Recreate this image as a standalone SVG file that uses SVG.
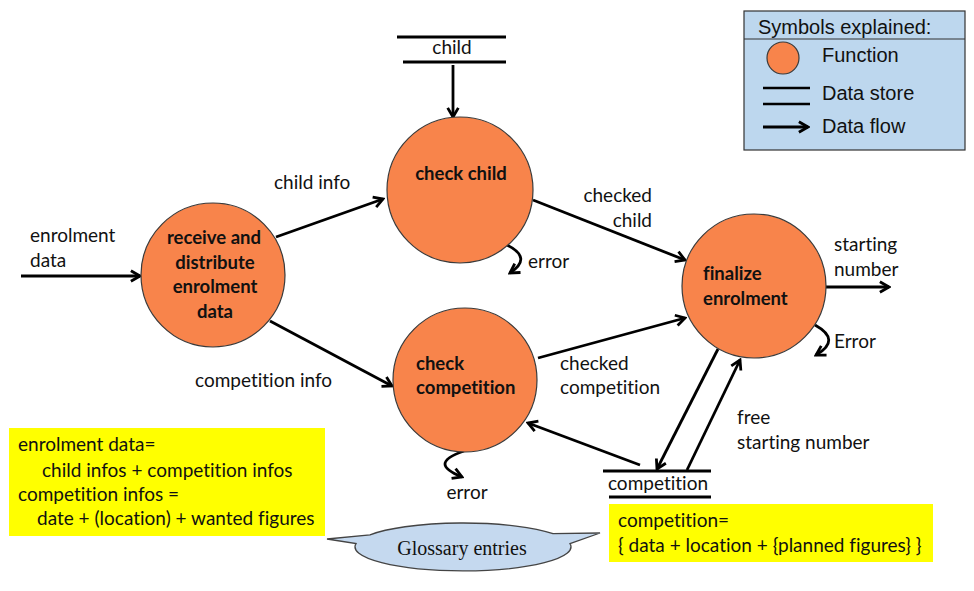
<svg xmlns="http://www.w3.org/2000/svg" width="974" height="591" viewBox="0 0 974 591">
<defs>
<marker id="ah" viewBox="0 0 10 10" markerUnits="userSpaceOnUse" markerWidth="14" markerHeight="14" refX="8.5" refY="5" orient="auto">
<path d="M2,1.2 L8.5,5 L2,8.8" fill="none" stroke="#000" stroke-width="2"/>
</marker>
<style>
text{font-variant-ligatures:none;font-feature-settings:"liga" 0}
.fn{fill:#F8844B;stroke:#3a3a3a;stroke-width:1.2}
.fl{fill:none;stroke:#000;stroke-width:2.8;marker-end:url(#ah)}
.ds{stroke:#000;stroke-width:3}
.lb{font-family:Lato,"Liberation Sans",sans-serif;font-size:19px;fill:#111}
.bt{font-family:Lato,"Liberation Sans",sans-serif;font-size:18.5px;font-weight:bold;fill:#111}
.lg{font-family:"Liberation Sans",Arial,sans-serif;font-size:20px;fill:#111}
.yl{fill:#FFFF00}
</style>
</defs>
<rect width="974" height="591" fill="#fff"/>

<g id="connectors">
<line class="fl" x1="21" y1="276" x2="140" y2="276"/>
<line class="fl" x1="276" y1="237" x2="383" y2="199"/>
<line class="fl" x1="270" y1="321" x2="392" y2="386"/>
<line class="fl" x1="453" y1="65" x2="453" y2="117"/>
<line class="fl" x1="533" y1="200" x2="685" y2="260"/>
<line class="fl" x1="538" y1="358" x2="685" y2="318"/>
<line class="fl" x1="826" y1="287" x2="889" y2="287"/>
<line class="fl" x1="718" y1="349" x2="657" y2="469"/>
<line class="fl" x1="687" y1="470" x2="740" y2="360"/>
<line class="fl" x1="640" y1="465" x2="528" y2="423"/>
<path class="fl" d="M507,245 Q533,258 510,273"/>
<path class="fl" d="M815,325 Q842,340 816,355"/>
<path class="fl" d="M464,451 C438,460 440,468 462,477"/>
</g>

<g id="receive">
<circle class="fn" cx="213" cy="275" r="72"/>
<text class="bt" text-anchor="middle" x="214" y="244">receive and</text>
<text class="bt" text-anchor="middle" x="215" y="269">distribute</text>
<text class="bt" text-anchor="middle" x="215" y="293">enrolment</text>
<text class="bt" text-anchor="middle" x="215" y="318">data</text>
</g>

<g id="checkchild">
<circle class="fn" cx="460" cy="190" r="73"/>
<text class="bt" text-anchor="middle" x="461" y="180">check child</text>
</g>

<g id="checkcompetition">
<circle class="fn" cx="465" cy="380" r="72"/>
<text class="bt" x="416" y="370">check</text>
<text class="bt" x="416" y="394">competition</text>
</g>

<g id="finalize">
<circle class="fn" cx="754" cy="286" r="72"/>
<text class="bt" x="703" y="280">finalize</text>
<text class="bt" x="703" y="305">enrolment</text>
</g>

<g id="store-child">
<line class="ds" x1="397" y1="37" x2="506" y2="37"/>
<line class="ds" x1="403" y1="62" x2="506" y2="62"/>
<text class="lb" text-anchor="middle" x="452" y="54">child</text>
</g>

<g id="store-competition">
<line class="ds" x1="603" y1="471" x2="711" y2="471"/>
<line class="ds" x1="609" y1="497" x2="711" y2="497"/>
<text class="lb" text-anchor="middle" x="658" y="490">competition</text>
</g>

<g id="labels">
<text class="lb" x="30" y="242">enrolment</text>
<text class="lb" x="30" y="267">data</text>
<text class="lb" x="274" y="189">child info</text>
<text class="lb" x="195" y="387">competition info</text>
<text class="lb" text-anchor="end" x="652" y="202">checked</text>
<text class="lb" text-anchor="end" x="652" y="227">child</text>
<text class="lb" x="528" y="268">error</text>
<text class="lb" x="560" y="370">checked</text>
<text class="lb" x="560" y="394">competition</text>
<text class="lb" x="834" y="251">starting</text>
<text class="lb" x="834" y="276">number</text>
<text class="lb" x="834" y="348">Error</text>
<text class="lb" x="737" y="424">free</text>
<text class="lb" x="737" y="449">starting number</text>
<text class="lb" text-anchor="middle" x="467" y="499">error</text>
</g>

<g id="legend">
<rect x="744" y="11" width="221" height="139" fill="#BDD7EE" stroke="#333" stroke-width="1.2"/>
<line x1="744" y1="39" x2="965" y2="39" stroke="#333" stroke-width="1.2"/>
<text class="lg" x="758" y="34">Symbols explained:</text>
<circle class="fn" cx="783" cy="58" r="16"/>
<text class="lg" x="822" y="62">Function</text>
<line x1="763" y1="88" x2="810" y2="88" stroke="#000" stroke-width="2.5"/>
<line x1="763" y1="104" x2="810" y2="104" stroke="#000" stroke-width="2.5"/>
<text class="lg" x="822" y="100">Data store</text>
<line class="fl" x1="763" y1="127" x2="808" y2="127" stroke-width="2.2"/>
<text class="lg" x="822" y="133">Data flow</text>
</g>

<g id="glossary1">
<rect class="yl" x="9" y="428" width="316" height="108"/>
<text class="lb" x="18" y="451">enrolment data=</text>
<text class="lb" x="42" y="477">child infos + competition infos</text>
<text class="lb" x="18" y="501">competition infos =</text>
<text class="lb" x="37" y="525">date + (location) + wanted figures</text>
</g>

<g id="glossary2">
<rect class="yl" x="609" y="504" width="324" height="58"/>
<text class="lb" x="618" y="527">competition=</text>
<text class="lb" x="618" y="552">{ data + location + {planned figures} }</text>
</g>

<g id="callout">
<path d="M327,539 L370,534.8 A108,24 0 0 1 553,533.7 L600,533 L570,543.6 A108,24 0 1 1 356,543.6 Z" fill="#C5D9EF" stroke="#444" stroke-width="1.3"/>
<text x="462" y="555" text-anchor="middle" font-family="'Liberation Serif','Times New Roman',serif" font-size="20px" fill="#111">Glossary entries</text>
</g>
</svg>
